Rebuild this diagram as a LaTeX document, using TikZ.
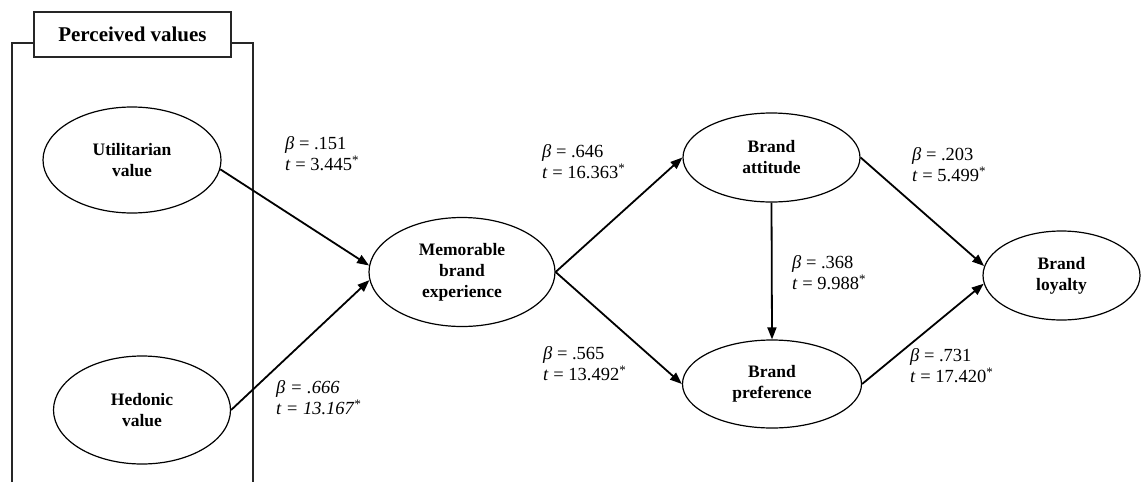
\documentclass[tikz,border=0pt]{standalone}
\usepackage{fontspec}
\setmainfont{Liberation Serif}
\usetikzlibrary{shapes.geometric,arrows.meta}
\tikzset{
  construct/.style={draw, ellipse, line width=1.2pt, inner sep=0pt, align=center,
    font=\fontsize{17.5}{21}\selectfont\bfseries},
  coef/.style={anchor=west, inner sep=0pt, align=left,
    font=\fontsize{18.5}{21}\selectfont},
  path/.style={line width=1.8pt, -{Triangle[length=12pt,width=9pt]}},
  frame/.style={line width=1.2pt, draw=black!85}
}
\begin{document}
\begin{tikzpicture}[x=1pt,y=-1pt]
\useasboundingbox (0,0) rectangle (1142,482);
% frame of perceived values
\draw[frame] (12,482) -- (12,43) -- (253,43) -- (253,482);
\node[draw, frame, fill=white, minimum width=197pt, minimum height=45pt, inner sep=0pt,
  font=\fontsize{21}{24}\selectfont\bfseries] (title) at (132.5,34.5) {Perceived values};
% constructs
\node[construct, minimum width=178pt, minimum height=106pt] (util) at (132,160) {Utilitarian\\value};
\node[construct, minimum width=177pt, minimum height=108pt] (hed) at (142,410) {Hedonic\\value};
\node[construct, minimum width=186pt, minimum height=109pt] (mem) at (462,272) {Memorable\\brand\\experience};
\node[construct, minimum width=177pt, minimum height=89pt] (att) at (771.5,157.5) {Brand\\attitude};
\node[construct, minimum width=179pt, minimum height=88pt] (pref) at (772,384) {Brand\\preference};
\node[construct, minimum width=157pt, minimum height=89pt] (loy) at (1061.5,275.5) {Brand\\loyalty};
% paths
\draw[path] (util.354) -- (mem.176);
\draw[path] (hed.east) -- (mem.185);
\draw[path] (mem.east) -- (att.west);
\draw[path] (mem.east) -- (pref.west);
\draw[path] (att.south) -- (pref.north);
\draw[path] (att.east) -- (loy.173);
\draw[path] (pref.east) -- (loy.186);
% coefficients
\node[coef] (c1) at (285,154) {\textit{β} = .151\\\textit{t} = 3.445\textsuperscript{*}};
\node[coef] (c2) at (276,397.5) {\textit{β = .666}\\\textit{t = 13.167\textsuperscript{*}}};
\node[coef] (c3) at (542,161.5) {\textit{β} = .646\\\textit{t} = 16.363\textsuperscript{*}};
\node[coef] (c4) at (543,364) {\textit{β} = .565\\\textit{t} = 13.492\textsuperscript{*}};
\node[coef] (c5) at (792,272.5) {\textit{β} = .368\\\textit{t} = 9.988\textsuperscript{*}};
\node[coef] (c6) at (912,164.5) {\textit{β} = .203\\\textit{t} = 5.499\textsuperscript{*}};
\node[coef] (c7) at (910,366) {\textit{β} = .731\\\textit{t} = 17.420\textsuperscript{*}};
\end{tikzpicture}
\end{document}
